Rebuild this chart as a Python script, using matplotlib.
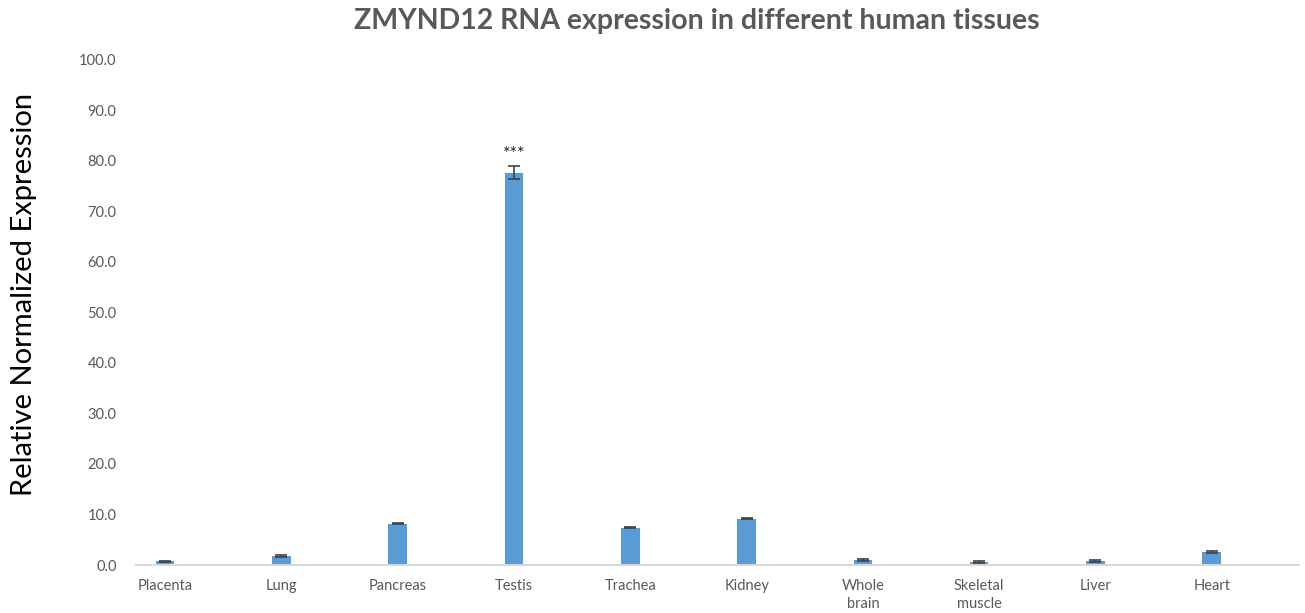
import numpy as np
import matplotlib.pyplot as plt

tissues = ['Placenta', 'Lung', 'Pancreas', 'Testis', 'Trachea', 'Kidney',
           'Whole\nbrain', 'Skeletal\nmuscle', 'Liver', 'Heart']
expression = [0.7, 1.8, 8.2, 77.7, 7.4, 9.2, 1.0, 0.6, 0.8, 2.6]
errors = [0.15, 0.15, 0.15, 1.3, 0.15, 0.15, 0.15, 0.15, 0.2, 0.15]
yticks = np.arange(0, 101, 10)

plt.rcParams['font.family'] = ['Lato', 'DejaVu Sans']

fig = plt.figure(figsize=(13.05, 6.13), dpi=100)
ax = fig.add_axes([0.1042, 0.0783, 0.8912, 0.8239])

x = np.arange(len(tissues))
ax.bar(x, expression, width=0.16, color='#5b9bd5', zorder=2)
ax.errorbar(x, expression, yerr=errors, fmt='none', ecolor='#404040',
            elinewidth=1.2, capsize=4, capthick=1.2, zorder=3)

# significance mark over testis
ti = tissues.index('Testis')
ax.text(x[ti], expression[ti] + errors[ti] + 0.8, '***', ha='center',
        va='bottom', fontsize=13, color='#222222')

ax.set_xlim(-0.25, 9.75)
ax.set_ylim(0, 100)
ax.set_xticks(x)
ax.set_xticklabels(tissues, fontsize=10.5, color='#595959', linespacing=1.35,
                   va='top')
ax.set_yticks(yticks)
ax.set_yticklabels(['%.1f' % v for v in yticks], fontsize=10.5,
                   color='#595959')
ax.tick_params(axis='both', length=0)
ax.tick_params(axis='x', pad=10)
ax.tick_params(axis='y', pad=14)

for s in ['top', 'right', 'left']:
    ax.spines[s].set_visible(False)
ax.spines['bottom'].set_color('#d9d9d9')
ax.spines['bottom'].set_linewidth(1.5)

ax.set_ylabel('Relative Normalized Expression', fontsize=21, color='black')
ax.yaxis.set_label_coords(-0.085, 0.535)

fig.text(0.534, 0.965, 'ZMYND12 RNA expression in different human tissues',
         ha='center', va='center', fontsize=20.5, fontweight='bold',
         color='#595959')

fig.savefig('out.png', dpi=100)
